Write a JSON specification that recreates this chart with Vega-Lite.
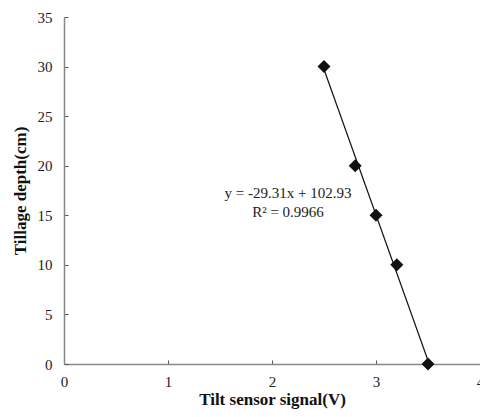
{
  "$schema": "https://vega.github.io/schema/vega-lite/v6.json",
  "width": 416,
  "height": 347,
  "autosize": {"type": "none"},
  "padding": {"left": 64, "top": 17, "right": 0, "bottom": 53},
  "config": {
    "view": {"stroke": null},
    "font": "Liberation Serif",
    "axis": {
      "grid": false,
      "domainColor": "#888888",
      "domainWidth": 1.5,
      "tickColor": "#555555",
      "tickSize": -4
    }
  },
  "datasets": {
    "points": [
      {"signal": 2.5, "depth": 30},
      {"signal": 2.8, "depth": 20},
      {"signal": 3.0, "depth": 15},
      {"signal": 3.2, "depth": 10},
      {"signal": 3.5, "depth": 0}
    ],
    "trend": [
      {"signal": 2.49, "depth": 30},
      {"signal": 3.512, "depth": 0}
    ],
    "label": [
      {"signal": 2.154, "depth": 17.25, "text": "y = -29.31x + 102.93"},
      {"signal": 2.154, "depth": 15.33, "text": "R² = 0.9966"}
    ]
  },
  "layer": [
    {
      "data": {"name": "trend"},
      "mark": {"type": "line", "color": "#111111", "strokeWidth": 1.2},
      "encoding": {
        "x": {"field": "signal", "type": "quantitative", "scale": {"domain": [0, 4]},
              "axis": {"values": [0, 1, 2, 3, 4], "format": "d", "labelFlush": false,
                       "labelFont": "Liberation Serif", "labelFontSize": 15, "labelColor": "#222222",
                       "title": "Tilt sensor signal(V)", "titleFont": "Liberation Serif", "titleFontSize": 17, "titleFontWeight": "bold", "titleColor": "#111111",
                       "labelPadding": 14, "titlePadding": 2}},
        "y": {"field": "depth", "type": "quantitative", "scale": {"domain": [0, 35]},
              "axis": {"values": [0, 5, 10, 15, 20, 25, 30, 35], "format": "d", "labelFlush": false,
                       "labelFont": "Liberation Serif", "labelFontSize": 15, "labelColor": "#222222",
                       "title": "Tillage depth(cm)", "titleFont": "Liberation Serif", "titleFontSize": 17, "titleFontWeight": "bold", "titleColor": "#111111",
                       "labelPadding": 16, "titlePadding": 8}}
      }
    },
    {
      "data": {"name": "points"},
      "mark": {"type": "point", "shape": "diamond", "filled": true, "color": "#111111", "opacity": 1, "size": 170},
      "encoding": {
        "x": {"field": "signal", "type": "quantitative"},
        "y": {"field": "depth", "type": "quantitative"}
      }
    },
    {
      "data": {"name": "label"},
      "mark": {"type": "text", "font": "Liberation Serif", "fontSize": 15, "color": "#222222", "align": "center", "baseline": "middle"},
      "encoding": {
        "x": {"field": "signal", "type": "quantitative"},
        "y": {"field": "depth", "type": "quantitative"},
        "text": {"field": "text"}
      }
    }
  ]
}
